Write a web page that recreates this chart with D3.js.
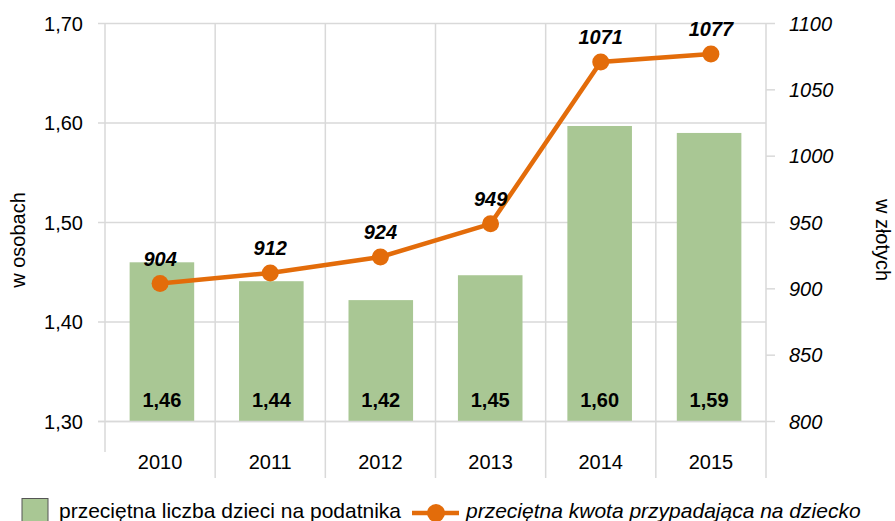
<!DOCTYPE html>
<html><head><meta charset="utf-8">
<script src="https://cdn.jsdelivr.net/npm/d3@7"></script>
<style>body{margin:0;background:#fff}svg{font-family:"Liberation Sans",Arial,sans-serif}</style>
</head><body><svg id="c" width="895" height="521"></svg>
<script>
const years = ["2010","2011","2012","2013","2014","2015"];
const childrenPerTaxpayer = [1.460,1.441,1.422,1.447,1.597,1.590];
const amountPerChild = [904,912,924,949,1071,1077];
const leftTicks = [1.30,1.40,1.50,1.60,1.70];
const rightTicks = [800,850,900,950,1000,1050,1100];
const barLabel = "przeciętna liczba dzieci na podatnika";
const lineLabel = "przeciętna kwota przypadająca na dziecko";

const svg = d3.select("#c");
const L=105, R=766, T=23.5, B=421.5;
const grid="#d9d9d9", green="#a9c794", orange="#e36c0a";
const x = d3.scaleBand().domain(years).range([L,R]).paddingInner(0.41).paddingOuter(0.225);
const xc = d3.scaleBand().domain(years).range([L,R]);
const yL = d3.scaleLinear().domain([1.3,1.7]).range([B,T]);
const yR = d3.scaleLinear().domain([800,1100]).range([B,T]);
const fmt = d => d.toFixed(2).replace(".",",");

svg.append("g").selectAll("line").data(leftTicks).join("line")
  .attr("x1",L-7).attr("x2",R).attr("y1",d=>yL(d)).attr("y2",d=>yL(d))
  .attr("stroke",grid).attr("stroke-width",1.5);
svg.append("g").selectAll("line").data(years.slice(1)).join("line")
  .attr("x1",d=>xc(d)).attr("x2",d=>xc(d)).attr("y1",T).attr("y2",478)
  .attr("stroke",grid).attr("stroke-width",1.5);
svg.append("line").attr("x1",L).attr("x2",L).attr("y1",T).attr("y2",452).attr("stroke",grid).attr("stroke-width",1.5);
svg.append("line").attr("x1",R).attr("x2",R).attr("y1",T).attr("y2",478).attr("stroke",grid).attr("stroke-width",1.5);
svg.append("g").selectAll("line").data(rightTicks).join("line")
  .attr("x1",R).attr("x2",R+9).attr("y1",d=>yR(d)).attr("y2",d=>yR(d))
  .attr("stroke",grid).attr("stroke-width",1.5);

svg.append("g").selectAll("rect").data(years).join("rect")
  .attr("x",d=>x(d)).attr("width",x.bandwidth())
  .attr("y",(d,i)=>yL(childrenPerTaxpayer[i])).attr("height",(d,i)=>B-yL(childrenPerTaxpayer[i]))
  .attr("fill",green);
svg.append("line").attr("x1",L-7).attr("x2",R).attr("y1",B).attr("y2",B).attr("stroke",grid).attr("stroke-width",1.5);
svg.append("g").selectAll("text").data(years).join("text")
  .attr("x",d=>x(d)+x.bandwidth()/2).attr("y",407).attr("text-anchor","middle")
  .attr("font-size",20).attr("font-weight","bold").attr("fill","#000")
  .text((d,i)=>fmt(childrenPerTaxpayer[i]));

svg.append("g").selectAll("text").data(leftTicks).join("text")
  .attr("x",83).attr("y",d=>yL(d)+7).attr("text-anchor","end").attr("font-size",20).text(fmt);
svg.append("g").selectAll("text").data(rightTicks).join("text")
  .attr("x",789).attr("y",d=>yR(d)+7).attr("font-size",20).attr("font-style","italic").text(d=>d);
svg.append("g").selectAll("text").data(years).join("text")
  .attr("x",d=>xc(d)+xc.bandwidth()/2).attr("y",469).attr("text-anchor","middle").attr("font-size",20).text(d=>d);
svg.append("text").attr("transform","translate(25,240) rotate(-90)").attr("text-anchor","middle").attr("font-size",20).text("w osobach");
svg.append("text").attr("transform","translate(876,240) rotate(90)").attr("text-anchor","middle").attr("font-size",20).text("w złotych");

const cx = d => xc(d)+xc.bandwidth()/2;
const line = d3.line().x(d=>cx(d[0])).y(d=>yR(d[1]));
const pts = years.map((y,i)=>[y,amountPerChild[i]]);
svg.append("path").datum(pts).attr("d",line).attr("fill","none").attr("stroke",orange).attr("stroke-width",4.5);
svg.append("g").selectAll("circle").data(pts).join("circle")
  .attr("cx",d=>cx(d[0])).attr("cy",d=>yR(d[1])).attr("r",8.5).attr("fill",orange);
svg.append("g").selectAll("text").data(pts).join("text")
  .attr("x",d=>cx(d[0])).attr("y",d=>yR(d[1])-18).attr("text-anchor","middle")
  .attr("font-size",20).attr("font-weight","bold").attr("font-style","italic").text(d=>d[1]);

svg.append("rect").attr("x",22).attr("y",498.5).attr("width",26).attr("height",25).attr("fill",green).attr("stroke","#555").attr("stroke-width",1);
svg.append("text").attr("x",59).attr("y",518).attr("font-size",21).text(barLabel);
svg.append("line").attr("x1",412).attr("x2",459).attr("y1",513).attr("y2",513).attr("stroke",orange).attr("stroke-width",4.5);
svg.append("circle").attr("cx",436).attr("cy",513).attr("r",9).attr("fill",orange);
svg.append("text").attr("x",466).attr("y",518).attr("font-size",21).attr("font-style","italic").text(lineLabel);
</script></body></html>
